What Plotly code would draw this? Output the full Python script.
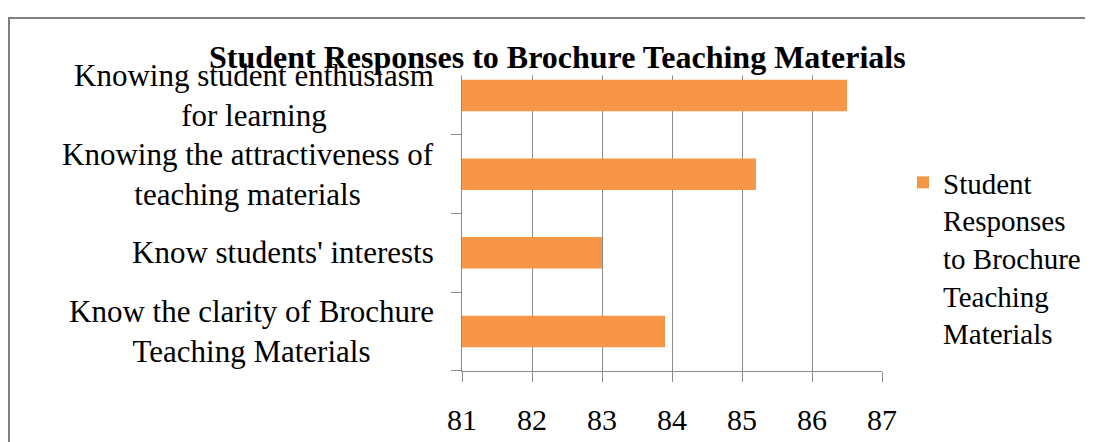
import plotly.graph_objects as go

categories = [
    "Know the clarity of Brochure<br>Teaching Materials",
    "Know students' interests",
    "Knowing the attractiveness of<br>teaching materials",
    "Knowing student enthusiasm<br>for learning",
]
values = [83.9, 83.0, 85.2, 86.5]
series_name = "Student<br>Responses<br>to Brochure<br>Teaching<br>Materials"
title_text = "Student Responses to Brochure Teaching Materials"
x_ticks = [81, 82, 83, 84, 85, 86, 87]

W, H = 1093, 442
OFF = 8  # page body margin
# plot area in reference-screen pixels
L, R, T, B = 462, 882, 56, 371
Lp, Rp, Tp, Bp = L - OFF, R - OFF, T - OFF, B - OFF


def px_x(p):
    return (p - OFF - Lp) / (Rp - Lp)


def px_y(p):
    return (Bp - (p - OFF)) / (Bp - Tp)


FONT = "Liberation Serif, Times New Roman, serif"
GRID = "#8c8c8c"

fig = go.Figure()
fig.add_trace(go.Bar(
    y=categories, x=values, orientation="h",
    name=series_name,
    marker=dict(color="#F79646", line=dict(width=0)),
    showlegend=True,
    hoverinfo="skip",
))

annotations = [
    dict(text="<b>%s</b>" % title_text, xref="paper", yref="paper",
         x=px_x(557), y=px_y(57), xanchor="center", yanchor="middle",
         showarrow=False, font=dict(family=FONT, size=32, color="black"),
         bgcolor="white", borderpad=0),
]
for c in categories:
    annotations.append(dict(
        text=c, xref="paper", yref="y", x=px_x(436), y=c,
        xanchor="right", yanchor="middle", align="center", showarrow=False,
        font=dict(family=FONT, size=31, color="black"),
    ))

fig.update_layout(
    width=W, height=H,
    margin=dict(l=Lp, r=W - Rp, t=Tp, b=H - Bp, pad=0),
    paper_bgcolor="white", plot_bgcolor="white",
    font=dict(family=FONT, color="black"),
    bargap=0.6,
    annotations=annotations,
    shapes=[dict(type="rect", xref="paper", yref="paper",
                 x0=px_x(9), x1=px_x(1120), y0=px_y(470), y1=px_y(18),
                 line=dict(color="#7f7f7f", width=2), fillcolor="rgba(0,0,0,0)",
                 layer="below")],
    legend=dict(x=px_x(903), y=px_y(157), xanchor="left", yanchor="top",
                valign="top", font=dict(family=FONT, size=29, color="black"),
                bgcolor="rgba(0,0,0,0)", tracegroupgap=0),
    xaxis=dict(range=[81, 87], tickvals=x_ticks, ticktext=[str(v) for v in x_ticks],
               showgrid=True, gridcolor=GRID, gridwidth=1,
               showline=True, linecolor=GRID, linewidth=1,
               ticks="outside", ticklen=10, tickcolor=GRID,
               tickfont=dict(family=FONT, size=30, color="black"),
               ticklabelstandoff=12, zeroline=False, fixedrange=True),
    yaxis=dict(type="category", showticklabels=False,
               showline=True, linecolor=GRID, linewidth=1,
               ticks="outside", ticklen=10, tickcolor=GRID, tickson="boundaries",
               showgrid=False, fixedrange=True),
)

fig.write_html("out.html", config={"displayModeBar": False})
